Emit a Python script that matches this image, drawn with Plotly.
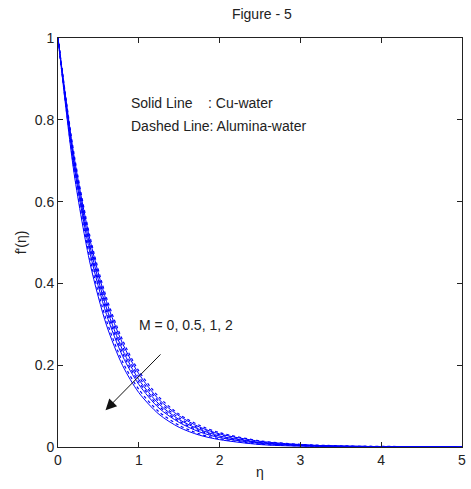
import plotly.graph_objects as go

# similarity variable
eta = [0, 0.2, 0.4, 0.6, 0.8, 1.0, 1.25, 1.5, 1.75, 2.0, 2.5, 3.0, 3.5, 5.0]

# velocity profiles f'(eta), Cu-water (solid)
cu_M0 = [1, 0.709, 0.503, 0.356, 0.253, 0.179, 0.116, 0.076, 0.049, 0.032, 0.014, 0.006, 0.002, 0]
cu_M05 = [1, 0.698, 0.487, 0.340, 0.237, 0.165, 0.105, 0.067, 0.043, 0.027, 0.011, 0.0045, 0.002, 0]
cu_M1 = [1, 0.687, 0.471, 0.324, 0.222, 0.153, 0.095, 0.060, 0.037, 0.023, 0.009, 0.0036, 0.0014, 0]
cu_M2 = [1, 0.668, 0.446, 0.298, 0.199, 0.133, 0.080, 0.048, 0.029, 0.018, 0.006, 0.002, 0.001, 0]

# velocity profiles f'(eta), Alumina-water (dashed)
al_M0 = [1, 0.715, 0.511, 0.365, 0.261, 0.186, 0.122, 0.080, 0.053, 0.035, 0.015, 0.0065, 0.003, 0]
al_M05 = [1, 0.703, 0.495, 0.348, 0.245, 0.172, 0.111, 0.071, 0.046, 0.030, 0.012, 0.005, 0.002, 0]
al_M1 = [1, 0.692, 0.479, 0.332, 0.229, 0.159, 0.100, 0.063, 0.040, 0.025, 0.010, 0.004, 0.0016, 0]
al_M2 = [1, 0.676, 0.457, 0.309, 0.208, 0.141, 0.086, 0.053, 0.032, 0.020, 0.007, 0.003, 0.001, 0]

x_ticks = [0, 1, 2, 3, 4, 5]
y_ticks = [0, 0.2, 0.4, 0.6, 0.8, 1]

FONT = "Liberation Sans Narrow, Liberation Sans, Arial, sans-serif"
BLUE = "#0000ff"
INK = "#222222"

fig = go.Figure()
for ys in [cu_M0, cu_M05, cu_M1, cu_M2]:
    fig.add_trace(go.Scatter(x=eta, y=ys, mode="lines",
                             line=dict(color=BLUE, width=1, shape="spline", smoothing=0.8),
                             showlegend=False, hoverinfo="skip"))
for ys in [al_M0, al_M05, al_M1, al_M2]:
    fig.add_trace(go.Scatter(x=eta, y=ys, mode="lines",
                             line=dict(color=BLUE, width=1.2, dash="3px,3px", shape="spline", smoothing=0.8),
                             showlegend=False, hoverinfo="skip"))

txt = dict(family=FONT, size=14, color=INK)
fig.add_annotation(x=0.88, y=0.841, text="Solid Line    : Cu-water", showarrow=False,
                   xanchor="left", yanchor="middle", font=txt)
fig.add_annotation(x=0.88, y=0.785, text="Dashed Line: Alumina-water", showarrow=False,
                   xanchor="left", yanchor="middle", font=txt)
fig.add_annotation(x=0.98, y=0.298, text="M = 0, 0.5, 1, 2", showarrow=False,
                   xanchor="left", yanchor="middle", font=txt)
# arrow showing the direction of increasing M
fig.add_annotation(x=0.588, y=0.09, ax=1.287, ay=0.23, xref="x", yref="y",
                   axref="x", ayref="y", text="", showarrow=True,
                   arrowhead=2, arrowsize=2.2, arrowwidth=1, arrowcolor="#111111")

axis_common = dict(showgrid=False, zeroline=False, showline=True, linecolor=INK,
                   linewidth=1, mirror="ticks", ticks="inside", ticklen=5,
                   tickcolor=INK, tickfont=dict(family=FONT, size=14, color=INK))

fig.update_xaxes(range=[0, 5], tickvals=x_ticks, ticktext=[str(v) for v in x_ticks],
                 title=dict(text="η", font=dict(family=FONT, size=14, color=INK), standoff=0),
                 **axis_common)
fig.update_yaxes(range=[0, 1], tickvals=y_ticks, ticktext=["0", "0.2", "0.4", "0.6", "0.8", "1"],
                 title=dict(text="f'(η)", font=dict(family=FONT, size=14, color=INK), standoff=4),
                 **axis_common)

fig.update_layout(
    width=471, height=489,
    margin=dict(l=58, r=5, t=38, b=42),
    paper_bgcolor="white", plot_bgcolor="white",
    title=dict(text="Figure - 5", x=0.556, xanchor="center", y=0.972, yanchor="middle",
               font=dict(family=FONT, size=14, color=INK)),
)

fig.write_html("out.html")
